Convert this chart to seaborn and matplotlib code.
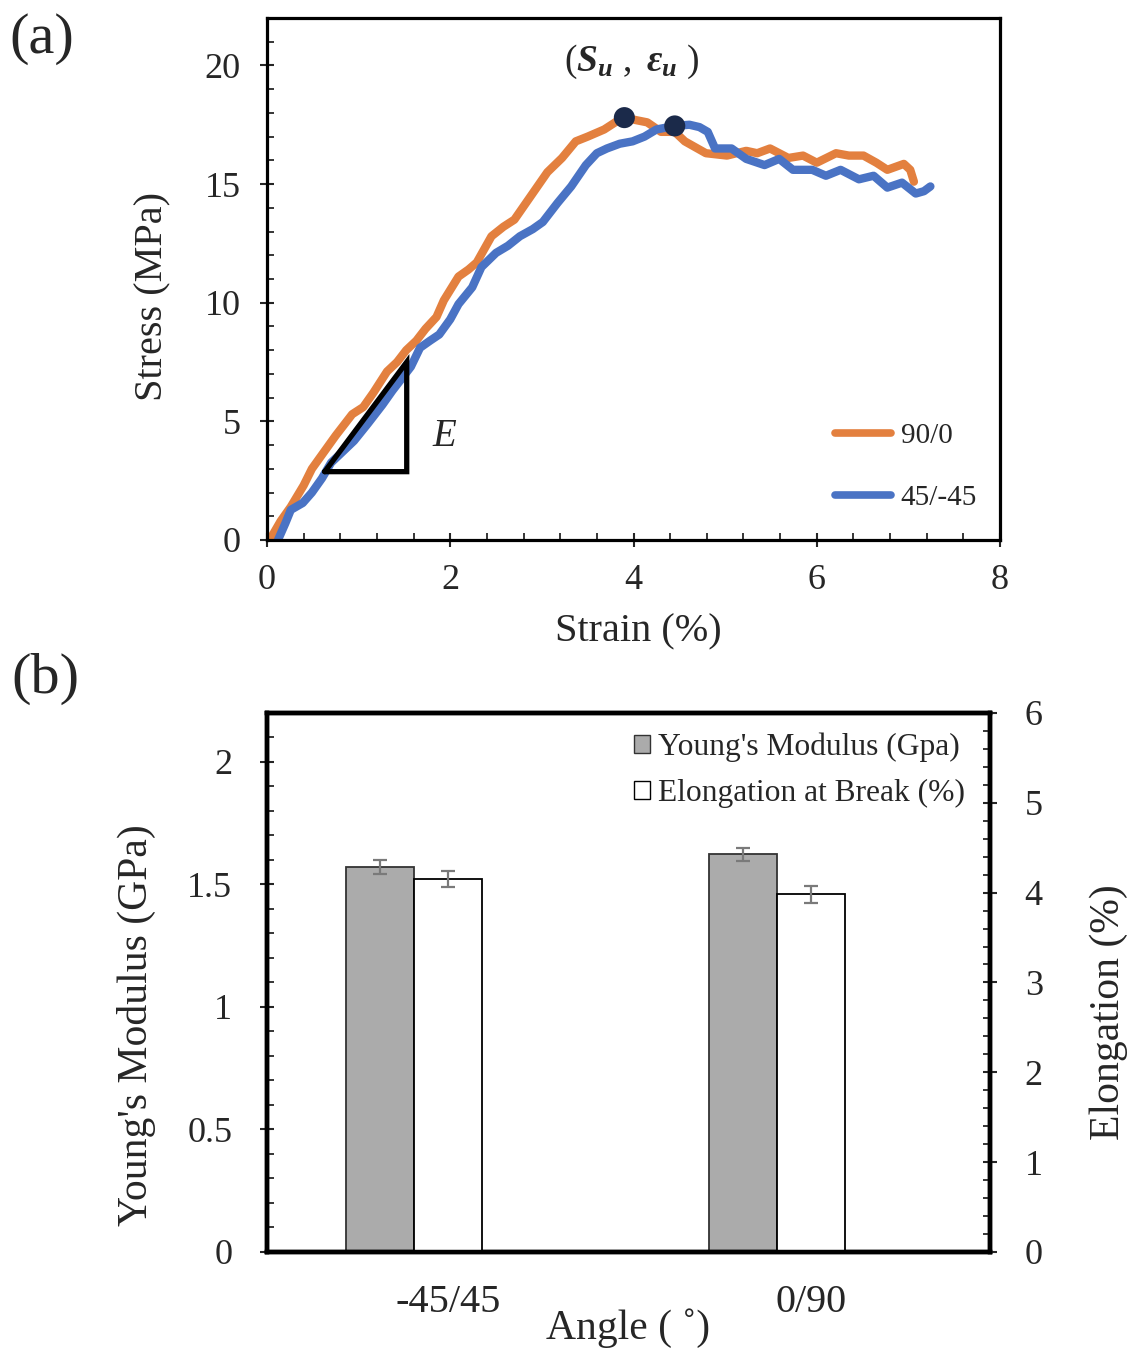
import numpy as np
import matplotlib
matplotlib.use('Agg')
import matplotlib.pyplot as plt
import seaborn as sns
from matplotlib.patches import Patch
from matplotlib.lines import Line2D
from matplotlib.ticker import MultipleLocator, FormatStrFormatter

# ---------------- data ----------------
strain_90 = [0.03, 0.15, 0.26, 0.40, 0.49, 0.62, 0.75, 0.93, 1.05, 1.16, 1.31, 1.42, 1.52, 1.63,
             1.73, 1.85, 1.93, 2.09, 2.20, 2.29, 2.45, 2.58, 2.70, 2.88, 2.97, 3.06, 3.22, 3.37,
             3.50, 3.68, 3.84, 3.92, 4.02, 4.15, 4.30, 4.45, 4.56, 4.79, 5.02, 5.23, 5.35, 5.49,
             5.69, 5.85, 6.00, 6.21, 6.35, 6.51, 6.65, 6.77, 6.95, 7.02, 7.06]
stress_90 = [0.0, 0.8, 1.4, 2.3, 3.0, 3.7, 4.4, 5.3, 5.6, 6.2, 7.1, 7.5, 8.0, 8.4,
             8.9, 9.4, 10.1, 11.1, 11.4, 11.7, 12.8, 13.2, 13.5, 14.5, 15.0, 15.5, 16.1, 16.8,
             17.0, 17.3, 17.7, 17.8, 17.7, 17.6, 17.2, 17.2, 16.8, 16.3, 16.2, 16.4, 16.3, 16.5,
             16.1, 16.2, 15.9, 16.3, 16.2, 16.2, 15.9, 15.6, 15.85, 15.6, 15.1]

strain_45 = [0.12, 0.20, 0.26, 0.39, 0.49, 0.60, 0.70, 0.82, 0.95, 1.10, 1.26, 1.37, 1.47, 1.57,
             1.67, 1.78, 1.88, 2.00, 2.09, 2.24, 2.34, 2.50, 2.63, 2.76, 2.90, 3.01, 3.17, 3.32,
             3.48, 3.60, 3.71, 3.85, 3.99, 4.12, 4.25, 4.45, 4.61, 4.72, 4.81, 4.89, 5.07, 5.23,
             5.43, 5.59, 5.74, 5.95, 6.10, 6.26, 6.46, 6.62, 6.77, 6.93, 7.08, 7.17, 7.24]
stress_45 = [0.0, 0.7, 1.27, 1.56, 2.0, 2.6, 3.26, 3.7, 4.18, 4.9, 5.7, 6.3, 6.8, 7.3,
             8.1, 8.4, 8.66, 9.3, 9.94, 10.65, 11.5, 12.1, 12.4, 12.8, 13.1, 13.4, 14.2, 14.9,
             15.8, 16.3, 16.5, 16.7, 16.8, 17.0, 17.3, 17.45, 17.5, 17.4, 17.2, 16.5, 16.5, 16.06,
             15.8, 16.06, 15.6, 15.6, 15.35, 15.6, 15.2, 15.35, 14.85, 15.06, 14.6, 14.7, 14.9]

curve_labels = ['90/0', '45/-45']
peak_strain = [3.90, 4.45]
peak_stress = [17.8, 17.45]

# modulus triangle annotation (strain, stress)
tri_strain = [0.63, 1.525, 1.525, 0.63]
tri_stress = [2.88, 2.88, 7.5, 2.88]

angles = ['-45/45', '0/90']
modulus = [1.57, 1.623]
modulus_err = [0.028, 0.027]
elongation = [4.15, 3.98]
elongation_err = [0.09, 0.09]

# ---------------- style ----------------
sns.set_style('white')
plt.rcParams['font.family'] = ['Liberation Serif', 'DejaVu Serif']
plt.rcParams['mathtext.fontset'] = 'custom'
plt.rcParams['mathtext.rm'] = 'Liberation Serif'
plt.rcParams['mathtext.it'] = 'Liberation Serif:italic'
plt.rcParams['mathtext.bf'] = 'Liberation Serif:bold:italic'

ORANGE = '#E3803F'
BLUE = '#4A73C4'
NAVY = '#1B2A4A'
GRAY = '#ABABAB'

fig = plt.figure(figsize=(11.39, 13.5), dpi=100)
ax1 = fig.add_axes([0.2344, 0.6, 0.6436, 0.3867])
ax2 = fig.add_axes([0.2344, 0.0726, 0.6348, 0.3993])
ax3 = ax2.twinx()

# ---------------- panel (a) ----------------
sns.lineplot(x=strain_90, y=stress_90, ax=ax1, color=ORANGE, lw=6, sort=False,
             solid_capstyle='round', solid_joinstyle='round')
sns.lineplot(x=strain_45, y=stress_45, ax=ax1, color=BLUE, lw=6, sort=False,
             solid_capstyle='round', solid_joinstyle='round')
sns.scatterplot(x=peak_strain, y=peak_stress, ax=ax1, color=NAVY, s=230, zorder=5,
                edgecolor='none')
ax1.plot(tri_strain, tri_stress, color='black', lw=3.8, solid_joinstyle='miter', zorder=4)

ax1.set_xlim(0, 8)
ax1.set_ylim(0, 22)
ax1.xaxis.set_major_locator(MultipleLocator(2))
ax1.xaxis.set_minor_locator(MultipleLocator(0.4))
ax1.yaxis.set_major_locator(MultipleLocator(5))
ax1.yaxis.set_minor_locator(MultipleLocator(1))
ax1.tick_params(which='major', direction='inout', length=10, width=1.5, labelsize=26,
                bottom=True, left=True, top=False, right=False)
ax1.tick_params(which='minor', direction='in', length=5, width=1.3,
                bottom=True, left=True, top=False, right=False)
ax1.tick_params(axis='x', which='major', pad=12)
ax1.tick_params(axis='y', which='major', pad=14)
for sp in ax1.spines.values():
    sp.set_visible(True)
    sp.set_color('black')
    sp.set_linewidth(2.3)
ax1.set_xlabel('Strain (%)', fontsize=29)
ax1.set_ylabel('Stress (MPa)', fontsize=29)
ax1.xaxis.set_label_coords(0.506, -0.14)
ax1.yaxis.set_label_coords(-0.13, 0.466)

ax1.text(3.98, 20.15, r'$(\mathbf{S_u}\ ,\ \mathbf{ε_u}\ )$', fontsize=27,
         ha='center', va='center')
ax1.text(1.94, 4.38, 'E', fontsize=28, style='italic', ha='center', va='center')

leg_handles = [Line2D([0], [0], color=ORANGE, lw=5.5, solid_capstyle='round'),
               Line2D([0], [0], color=BLUE, lw=5.5, solid_capstyle='round')]
ax1.legend(leg_handles, curve_labels, loc='upper left', bbox_to_anchor=(0.775, 0.224),
           frameon=False, fontsize=21, handlelength=1.9, handletextpad=0.35,
           labelspacing=1.22, borderpad=0, borderaxespad=0)

# ---------------- panel (b) ----------------
x_idx = np.arange(len(angles))
bar_w = 0.187
sns.barplot(x=x_idx - bar_w / 2, y=modulus, native_scale=True, width=bar_w, ax=ax2,
            color=GRAY, saturation=1, edgecolor='#333333', linewidth=1.3, errorbar=None)
ax2.errorbar(x_idx - bar_w / 2, modulus, yerr=modulus_err, fmt='none', ecolor='#7A7A7A',
             elinewidth=1.6, capsize=5, capthick=1.6, zorder=5)
sns.barplot(x=x_idx + bar_w / 2, y=elongation, native_scale=True, width=bar_w, ax=ax3,
            color='white', saturation=1, edgecolor='black', linewidth=1.3, errorbar=None)
ax3.errorbar(x_idx + bar_w / 2, elongation, yerr=elongation_err, fmt='none', ecolor='#7A7A7A',
             elinewidth=1.6, capsize=5, capthick=1.6, zorder=5)

ax2.set_xlim(-0.405, 0.587 + 1)
ax2.set_ylim(0, 2.2)
ax3.set_ylim(0, 6)
ax2.set_xticks(x_idx + bar_w / 2)
ax2.set_xticklabels(angles)
ax2.tick_params(axis='x', which='both', length=0, labelsize=29, pad=23)
ax2.yaxis.set_major_locator(MultipleLocator(0.5))
ax2.yaxis.set_minor_locator(MultipleLocator(0.1))
ax2.yaxis.set_major_formatter(FormatStrFormatter('%g'))
ax2.tick_params(axis='y', which='major', direction='inout', length=10, width=1.5,
                labelsize=26, pad=20, left=True)
ax2.tick_params(axis='y', which='minor', direction='in', length=5, width=1.3, left=True)
ax3.yaxis.set_major_locator(MultipleLocator(1))
ax3.yaxis.set_minor_locator(MultipleLocator(0.2))
ax3.tick_params(axis='y', which='major', direction='inout', length=10, width=1.5,
                labelsize=26, pad=20, right=True)
ax3.tick_params(axis='y', which='minor', direction='in', length=5, width=1.3, right=True)
ax3.set_xticks(x_idx + bar_w / 2)
ax3.set_xticklabels(angles)
ax3.tick_params(axis='x', which='both', length=0, labelsize=29, pad=23)
for a in (ax2, ax3):
    for sp in a.spines.values():
        sp.set_visible(True)
        sp.set_color('black')
        sp.set_linewidth(3.2)

ax2.set_xlabel('Angle ( ˚)', fontsize=30)
ax2.xaxis.set_label_coords(0.499, -0.104)
ax2.set_ylabel("Young's Modulus (GPa)", fontsize=30)
ax2.yaxis.set_label_coords(-0.154, 0.421)
ax3.set_ylabel('Elongation (%)', fontsize=30)
ax3.yaxis.set_label_coords(1.138, 0.445)

bar_handles = [Patch(facecolor=GRAY, edgecolor='#333333', linewidth=1.0),
               Patch(facecolor='white', edgecolor='black', linewidth=1.0)]
ax3.legend(bar_handles, ["Young's Modulus (Gpa)", 'Elongation at Break (%)'],
           loc='upper left', bbox_to_anchor=(0.508, 0.964), frameon=False, fontsize=22.7,
           handlelength=0.5, handleheight=0.5, handletextpad=0.25, labelspacing=0.54,
           borderpad=0, borderaxespad=0)

fig.text(0.037, 0.971, '(a)', fontsize=42, ha='center', va='center')
fig.text(0.040, 0.497, '(b)', fontsize=42, ha='center', va='center')

fig.savefig('out.png', dpi=100)
